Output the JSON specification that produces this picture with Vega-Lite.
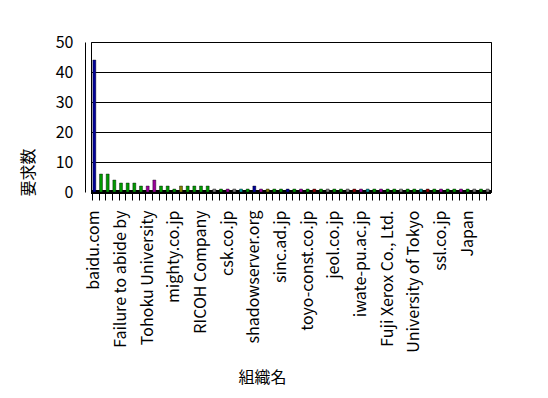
{
  "$schema": "https://vega.github.io/schema/vega-lite/v6.json",
  "width": 400,
  "height": 150,
  "autosize": {"type": "none"},
  "padding": {"left": 91, "top": 42, "right": 57, "bottom": 206},
  "background": "white",
  "config": {
    "font": "Noto Sans CJK JP",
    "view": {"stroke": "black", "strokeWidth": 1},
    "axis": {"labelFont": "Noto Sans CJK JP", "titleFont": "Noto Sans CJK JP", "labelColor": "black", "titleColor": "black", "titleFontWeight": "normal", "domainColor": "black", "tickColor": "black"}
  },
  "data": {"values": [
    {"org": "baidu.com", "n": 44, "g": "A"},
    {"org": "#1", "n": 6, "g": "B"},
    {"org": "#2", "n": 6, "g": "B"},
    {"org": "#3", "n": 4, "g": "B"},
    {"org": "Failure to abide by", "n": 3, "g": "B"},
    {"org": "#5", "n": 3, "g": "B"},
    {"org": "#6", "n": 3, "g": "B"},
    {"org": "#7", "n": 2, "g": "B"},
    {"org": "Tohoku University", "n": 2, "g": "C"},
    {"org": "#9", "n": 4, "g": "C"},
    {"org": "#10", "n": 2, "g": "B"},
    {"org": "#11", "n": 2, "g": "B"},
    {"org": "mighty.co.jp", "n": 1, "g": "B"},
    {"org": "#13", "n": 2, "g": "D"},
    {"org": "#14", "n": 2, "g": "B"},
    {"org": "#15", "n": 2, "g": "B"},
    {"org": "RICOH Company", "n": 2, "g": "B"},
    {"org": "#17", "n": 2, "g": "B"},
    {"org": "#18", "n": 1, "g": "E"},
    {"org": "#19", "n": 1, "g": "B"},
    {"org": "csk.co.jp", "n": 1, "g": "C"},
    {"org": "#21", "n": 1, "g": "E"},
    {"org": "#22", "n": 1, "g": "F"},
    {"org": "#23", "n": 1, "g": "B"},
    {"org": "shadowserver.org", "n": 2, "g": "A"},
    {"org": "#25", "n": 1, "g": "C"},
    {"org": "#26", "n": 1, "g": "D"},
    {"org": "#27", "n": 1, "g": "B"},
    {"org": "sinc.ad.jp", "n": 1, "g": "B"},
    {"org": "#29", "n": 1, "g": "A"},
    {"org": "#30", "n": 1, "g": "B"},
    {"org": "#31", "n": 1, "g": "C"},
    {"org": "toyo-const.co.jp", "n": 1, "g": "B"},
    {"org": "#33", "n": 1, "g": "G"},
    {"org": "#34", "n": 1, "g": "B"},
    {"org": "#35", "n": 1, "g": "E"},
    {"org": "jeol.co.jp", "n": 1, "g": "B"},
    {"org": "#37", "n": 1, "g": "B"},
    {"org": "#38", "n": 1, "g": "E"},
    {"org": "#39", "n": 1, "g": "G"},
    {"org": "iwate-pu.ac.jp", "n": 1, "g": "C"},
    {"org": "#41", "n": 1, "g": "F"},
    {"org": "#42", "n": 1, "g": "B"},
    {"org": "#43", "n": 1, "g": "C"},
    {"org": "Fuji Xerox Co., Ltd.", "n": 1, "g": "B"},
    {"org": "#45", "n": 1, "g": "B"},
    {"org": "#46", "n": 1, "g": "E"},
    {"org": "#47", "n": 1, "g": "B"},
    {"org": "University of Tokyo", "n": 1, "g": "B"},
    {"org": "#49", "n": 1, "g": "F"},
    {"org": "#50", "n": 1, "g": "G"},
    {"org": "#51", "n": 1, "g": "B"},
    {"org": "ssl.co.jp", "n": 1, "g": "C"},
    {"org": "#53", "n": 1, "g": "B"},
    {"org": "#54", "n": 1, "g": "B"},
    {"org": "#55", "n": 1, "g": "C"},
    {"org": "Japan", "n": 1, "g": "B"},
    {"org": "#57", "n": 1, "g": "E"},
    {"org": "#58", "n": 1, "g": "B"},
    {"org": "#59", "n": 1, "g": "E"}
  ]},
  "layer": [
    {
      "mark": {"type": "rule", "color": "black", "strokeWidth": 4},
      "encoding": {"y": {"datum": 0, "type": "quantitative", "scale": {"domain": [0, 50]},
        "axis": {
            "title": "要求数", "titleFontSize": 16, "titleX": -49, "titleY": 130,
            "values": [0, 10, 20, 30, 40, 50], "labelFontSize": 16, "offset": 6, "labelOverlap": false,
            "tickSize": 0, "labelPadding": 12, "gridColor": "black", "gridOpacity": 1, "grid": true
          }}}
    },
    {
      "mark": {"type": "bar", "size": 3, "stroke": "black", "strokeWidth": 0.4},
      "encoding": {
        "x": {
          "field": "org", "type": "nominal", "sort": null,
          "scale": {"paddingInner": 0.5, "paddingOuter": 0.25},
          "axis": {
            "title": "組織名", "titleFontSize": 16, "titleX": 171, "titleY": 177,
            "labelAngle": -90, "labelFontSize": 16, "labelPadding": 10, "tickSize": 8,
            "bandPosition": 0, "labelOverlap": false,
            "labelExpr": "indexof(datum.value, '#') == 0 ? '' : datum.value"
          }
        },
        "y": {
          "field": "n", "type": "quantitative",
          "scale": {"domain": [0, 50]},
          "axis": {
            "title": "要求数", "titleFontSize": 16, "titleX": -49, "titleY": 130,
            "values": [0, 10, 20, 30, 40, 50], "labelFontSize": 16, "offset": 6, "labelOverlap": false,
            "tickSize": 0, "labelPadding": 12, "gridColor": "black", "gridOpacity": 1, "grid": true
          }
        },
        "color": {
          "field": "g", "type": "nominal", "legend": null,
          "scale": {"domain": ["A", "B", "C", "D", "E", "F", "G"], "range": ["#000099", "#009900", "#990099", "#808000", "#808080", "#009999", "#990000"]}
        }
      }
    }
  ]
}
